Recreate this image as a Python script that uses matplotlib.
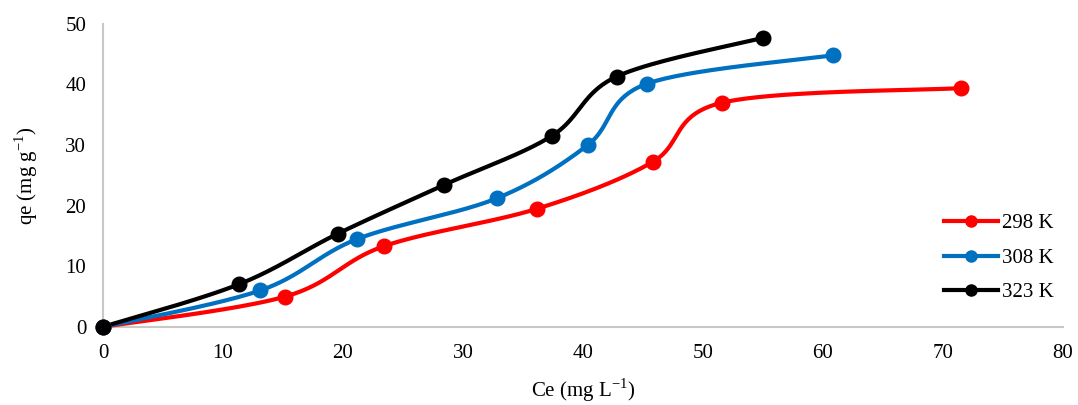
import numpy as np
import matplotlib.pyplot as plt
from matplotlib import rcParams

rcParams.update({
    "font.family": ["Liberation Serif", "DejaVu Serif"],
    "mathtext.fontset": "custom",
    "mathtext.rm": "Liberation Serif",
})

# ================== 数据 ==================
ce_298 = [0, 15.2, 23.4, 36.2, 45.8, 51.6, 71.5]
qe_298 = [0, 5.0, 13.3, 19.5, 27.2, 37.0, 39.4]

ce_308 = [0, 13.1, 21.2, 32.8, 40.4, 45.3, 60.8]
qe_308 = [0, 6.0, 14.5, 21.2, 30.0, 40.1, 44.8]

ce_323 = [0, 11.3, 19.6, 28.4, 37.4, 42.8, 55.0]
qe_323 = [0, 7.0, 15.4, 23.4, 31.5, 41.3, 47.7]

series = [
    ("298 K", ce_298, qe_298, "#FF0000"),
    ("308 K", ce_308, qe_308, "#0070C0"),
    ("323 K", ce_323, qe_323, "#000000"),
]


def smooth_curve(x, y, n=40):
    # 平滑折线（三次 Bezier，切线 = (P[i+1]-P[i-1])/6）
    p = np.column_stack([x, y]).astype(float)
    ext = np.vstack([p[0], p, p[-1]])
    out = []
    for i in range(len(p) - 1):
        p0, p1, p2, p3 = ext[i], ext[i + 1], ext[i + 2], ext[i + 3]
        c1 = p1 + (p2 - p0) / 6.0
        c2 = p2 - (p3 - p1) / 6.0
        t = np.linspace(0, 1, n)[:, None]
        seg = ((1 - t) ** 3) * p1 + 3 * ((1 - t) ** 2) * t * c1 \
            + 3 * (1 - t) * t ** 2 * c2 + t ** 3 * p2
        out.append(seg if i == 0 else seg[1:])
    s = np.vstack(out)
    return s[:, 0], s[:, 1]


fig, ax = plt.subplots(figsize=(10.78, 4.05), dpi=100)

for label, xs, ys, color in series:
    sx, sy = smooth_curve(xs, ys)
    ax.plot(sx, sy, '-', color=color, linewidth=3, solid_capstyle='round',
            zorder=3, clip_on=False)
    ax.plot(xs, ys, 'o', color=color, markersize=10.5, zorder=4, clip_on=False)
    # 图例句柄
    ax.plot([], [], '-o', color=color, linewidth=3, markersize=8, label=label)

ax.set_xlim(0, 80)
ax.set_ylim(0, 50)
ax.set_xticks(np.arange(0, 81, 10))
ax.set_yticks(np.arange(0, 51, 10))
ax.tick_params(axis='both', length=0, labelsize=15, pad=12)

for side in ['top', 'right']:
    ax.spines[side].set_visible(False)
for side in ['left', 'bottom']:
    ax.spines[side].set_color("#C8C8C8")
    ax.spines[side].set_linewidth(1.5)
    ax.spines[side].set_zorder(1)

ax.set_xlabel(r"Ce (mg L$^{\mathregular{-1}}$)", fontsize=15, labelpad=10)
ax.set_ylabel(r"qe (mg g$^{\mathregular{-1}}$)", fontsize=15, labelpad=18)

ax.legend(loc='center left', bbox_to_anchor=(0.866, 1 - 258 / 405),
          bbox_transform=fig.transFigure, borderpad=0,
          frameon=False, fontsize=15, handlelength=2.6,
          handletextpad=0.2, labelspacing=0.72)

plt.subplots_adjust(left=0.0955, right=0.986, bottom=0.193, top=0.941)
plt.savefig("out.png", dpi=100)
